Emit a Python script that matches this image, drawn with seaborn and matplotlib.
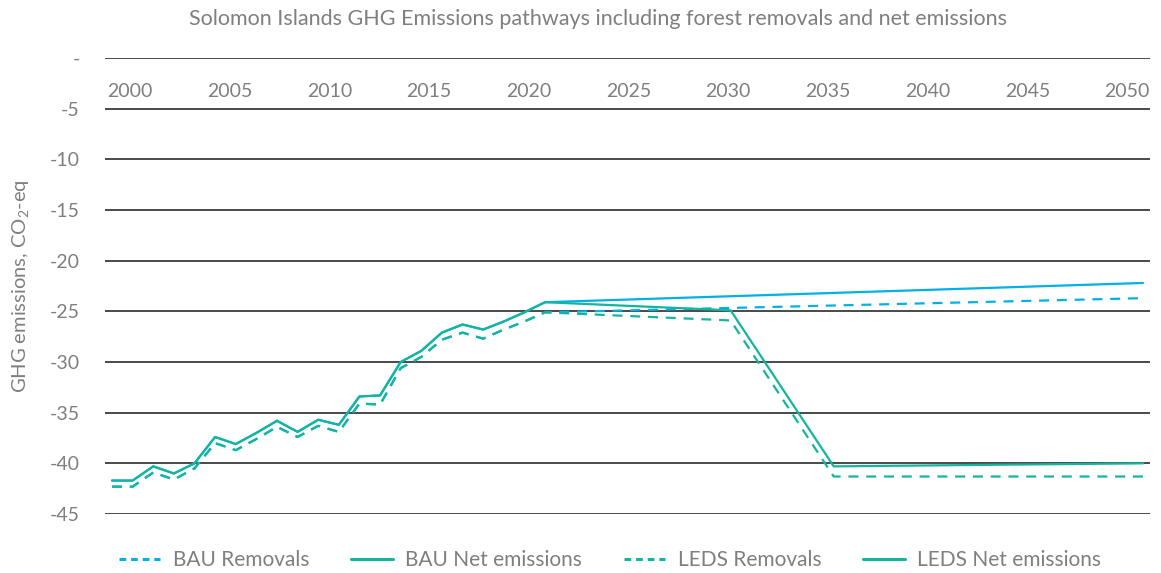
import numpy as np
import pandas as pd
import matplotlib
matplotlib.use("Agg")
import matplotlib.pyplot as plt
from matplotlib.lines import Line2D
import seaborn as sns

# ---------------- data ----------------
hist_years = list(range(2000, 2022))
hist_net = [-41.7, -41.7, -40.3, -41.0, -40.0, -37.4, -38.1, -37.0, -35.8, -36.9, -35.7,
            -36.2, -33.4, -33.3, -30.0, -28.9, -27.1, -26.3, -26.8, -26.0, -25.1, -24.1]
hist_rem = [-42.3, -42.3, -40.9, -41.6, -40.5, -38.0, -38.7, -37.6, -36.4, -37.4, -36.3,
            -36.9, -34.1, -34.2, -30.6, -29.5, -27.8, -27.1, -27.7, -26.8, -26.0, -25.1]

bau_future_years = [2050]
bau_net_future = [-22.2]
bau_rem_future = [-23.7]

leds_future_years = [2030, 2035, 2050]
leds_net_future = [-24.9, -40.3, -40.0]
leds_rem_future = [-25.9, -41.3, -41.3]

title = "Solomon Islands GHG Emissions pathways including forest removals and net emissions"
ylabel = r"GHG emissions, CO$_\mathregular{2}$-eq"
x_ticks = list(range(2000, 2051, 5))
y_ticks = [0, -5, -10, -15, -20, -25, -30, -35, -40, -45]
y_ticklabels = ["-", "-5", "-10", "-15", "-20", "-25", "-30", "-35", "-40", "-45"]
legend_labels = ["BAU Removals", "BAU Net emissions", "LEDS Removals", "LEDS Net emissions"]

# ---------------- style ----------------
sns.set_theme(style="white")
plt.rcParams['font.family'] = ['Lato', 'DejaVu Sans']
plt.rcParams['mathtext.fontset'] = 'custom'
plt.rcParams['mathtext.rm'] = 'Lato'

BLUE = "#00B0E6"
TEAL = "#14B59E"
GRAY = "#7f7f7f"
GRID = "#3a3a3a"
DASH = (0, (4.5, 3.5))
LW = 1.6

W, H = 1161, 573
fig = plt.figure(figsize=(W / 100, H / 100), dpi=100)
ax = fig.add_axes([105 / W, 1 - 514 / H, (1150 - 105) / W, (514 - 58) / H])

def frame(years, vals, name):
    return pd.DataFrame({"year": years, "value": vals, "series": name})

bau_net = frame(hist_years + bau_future_years, hist_net + bau_net_future, "BAU Net emissions")
bau_rem = frame(hist_years + bau_future_years, hist_rem + bau_rem_future, "BAU Removals")
leds_net = frame(hist_years + leds_future_years, hist_net + leds_net_future, "LEDS Net emissions")
leds_rem = frame(hist_years + leds_future_years, hist_rem + leds_rem_future, "LEDS Removals")

sns.lineplot(data=bau_net, x="year", y="value", ax=ax, color=BLUE, lw=LW, legend=False)
sns.lineplot(data=bau_rem, x="year", y="value", ax=ax, color=BLUE, lw=LW, linestyle=DASH, legend=False)
sns.lineplot(data=leds_rem, x="year", y="value", ax=ax, color=TEAL, lw=LW, linestyle=DASH, legend=False)
sns.lineplot(data=leds_net, x="year", y="value", ax=ax, color=TEAL, lw=LW, legend=False)

ax.set_xlim(1999.66, 2050.34)
ax.set_ylim(-45, 0)
ax.set_yticks(y_ticks)
ax.set_yticklabels(y_ticklabels)
ax.set_xticks([])

for s in ax.spines.values():
    s.set_visible(False)
ax.grid(axis='y', color=GRID, lw=1.3)
ax.grid(axis='x', visible=False)
ax.set_axisbelow(True)
ax.tick_params(axis='y', length=0, pad=18, labelsize=14, labelcolor=GRAY)

# category-style year labels (Excel places them on their own spacing)
axl = ax.twiny()
axl.set_xlim(1998.746, 2051.153)
axl.set_xticks(x_ticks)
axl.set_xticklabels([str(x) for x in x_ticks])
for s in axl.spines.values():
    s.set_visible(False)
axl.tick_params(axis='x', length=0, top=False, labeltop=True, pad=-30, labelsize=14, labelcolor=GRAY)

ax.set_xlabel("")
ax.set_ylabel(ylabel, fontsize=14.5, color=GRAY)
ax.yaxis.set_label_coords((32 - 105) / (1150 - 105), 0.5)

fig.text(598 / W, 1 - 19 / H, title, ha='center', va='center', fontsize=15.5, color=GRAY)

handles = [
    Line2D([], [], color=BLUE, lw=2.2, linestyle=(0, (2.2, 1.6))),
    Line2D([], [], color=TEAL, lw=2.2),
    Line2D([], [], color=TEAL, lw=2.2, linestyle=(0, (2.2, 1.6))),
    Line2D([], [], color=TEAL, lw=2.2),
]
leg = fig.legend(handles, legend_labels, loc='center', bbox_to_anchor=(610 / W, 1 - 560 / H),
                 ncol=4, frameon=False, fontsize=15, handlelength=2.0, handletextpad=0.6,
                 columnspacing=2.0)
for t in leg.get_texts():
    t.set_color(GRAY)

fig.savefig("out.png", dpi=100)
